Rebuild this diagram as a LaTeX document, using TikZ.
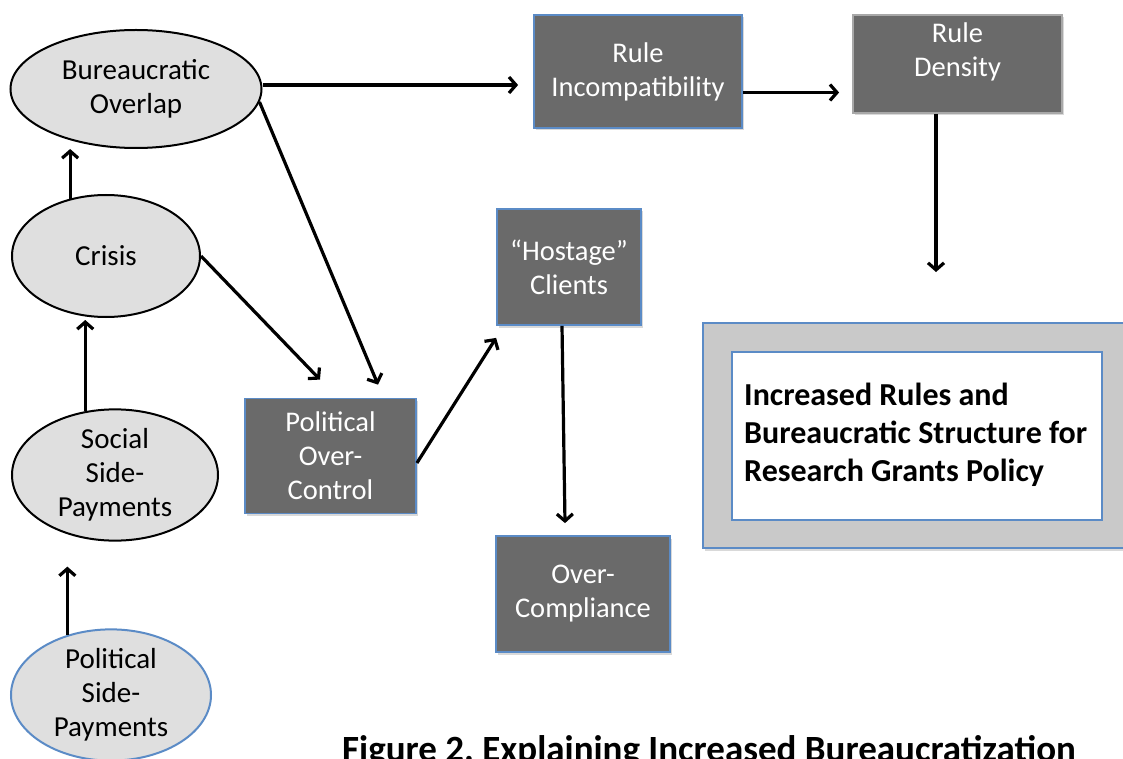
\documentclass[tikz,border=0pt]{standalone}
\usepackage{fontspec}
\setmainfont{Carlito}
\usetikzlibrary{shapes.geometric,arrows.meta,shadows}
\definecolor{boxgray}{HTML}{6A6A6A}
\definecolor{ellgray}{HTML}{DFDFDF}
\definecolor{blueline}{HTML}{5B8BC6}
\definecolor{outergray}{HTML}{C9C9C9}
\definecolor{densityline}{HTML}{A8A8A8}
\frenchspacing
\begin{document}
\begin{tikzpicture}[x=1pt,y=-1pt,
  ell/.style={ellipse, draw=black, line width=2pt, fill=ellgray, inner sep=0pt, align=center,
    font=\fontsize{29}{34}\selectfont},
  dbox/.style={rectangle, draw=blueline, line width=1.8pt, fill=boxgray, text=white, inner sep=0pt,
    align=center, font=\fontsize{28.5}{34}\selectfont,
    drop shadow={opacity=0.3, shadow xshift=1.5pt, shadow yshift=-2.5pt}},
  wtext/.style={text=white, align=center, font=\fontsize{28.5}{34}\selectfont, inner sep=0pt},
  arr/.style={line width=3.2pt, -{Straight Barb[length=7pt,width=16pt]}}]
\useasboundingbox (0,0) rectangle (1123,759);

% ellipses
\node[ell, minimum width=251pt, minimum height=118pt] (bo) at (136,89) {Bureaucratic\\Overlap};
\node[ell, minimum width=188pt, minimum height=122pt] (cr) at (106,256) {Crisis};
\node[ell, minimum width=206pt, minimum height=120pt] (ssp) at (115,475) {Social\\Side-\\Payments};
\node[ell, draw=blueline, minimum width=200pt, minimum height=124pt] (psp) at (111,695) {Political\\Side-\\Payments};

% dark boxes
\node[dbox, minimum width=208pt, minimum height=113pt] (ri) at (638,71.5) {Rule\\Incompatibility};
\node[dbox, draw=densityline, minimum width=209pt, minimum height=98pt] (rd) at (957.5,64) {};
\node[wtext] (rdt) at (957.5,52) {Rule\\Density};
\node[dbox, minimum width=144pt, minimum height=116pt] (hc) at (569,267) {``Hostage''\\Clients};
\node[dbox, minimum width=171pt, minimum height=115pt] (poc) at (330.5,456) {Political\\Over-\\Control};
\node[dbox, minimum width=174pt, minimum height=116pt] (oc) at (583,594) {Over-\\Compliance};

% outcome box
\node[rectangle, draw=blueline, line width=1.8pt, fill=outergray, minimum width=423pt, minimum height=225pt,
  drop shadow={opacity=0.3, shadow xshift=1.5pt, shadow yshift=-2.5pt}] (outer) at (914.5,435.5) {};
\node[rectangle, draw=blueline, line width=1.8pt, fill=white, minimum width=370pt, minimum height=168pt] (inner) at (917,436) {};
\node[anchor=west, align=left, inner sep=0pt, font=\bfseries\fontsize{32}{38}\selectfont] (goal) at (744,435)
  {Increased Rules and\\Bureaucratic Structure for\\Research Grants Policy};

% caption
\node[anchor=base west, inner sep=0pt, font=\bfseries\fontsize{37}{42}\selectfont] (cap) at (342,761)
  {Figure 2. Explaining Increased Bureaucratization};

% connectors
\draw[arr] (cr.122.5) -- (cr.122.5 |- bo.south);
\draw[arr, shorten >=2pt] (ssp.115.9) -- (ssp.115.9 |- cr.south);
\draw[arr, shorten >=25pt] (psp.126) -- (psp.126 |- ssp.south);
\draw[arr, shorten >=15pt] ([yshift=4pt]bo.east) -- ([yshift=4pt]bo.east -| ri.west);
\draw[arr] (bo.-6) -- ([xshift=47.5pt,yshift=13pt]poc.north);
\draw[arr] (cr.east) -- ([xshift=-10.5pt,yshift=18pt]poc.north);
\draw[arr] ([yshift=-7pt]poc.east) -- ([yshift=-12pt]hc.south west);
\draw[arr] ([xshift=-7pt]hc.south) -- ([xshift=-18pt,yshift=12pt]oc.north);
\draw[arr, shorten >=13pt] ([yshift=-21pt]ri.east) -- ([yshift=-21pt]ri.east -| rd.west);
\coordinate (rdend) at (936,272);
\draw[arr] (rd.south -| rdend) -- (rdend);
\end{tikzpicture}
\end{document}
